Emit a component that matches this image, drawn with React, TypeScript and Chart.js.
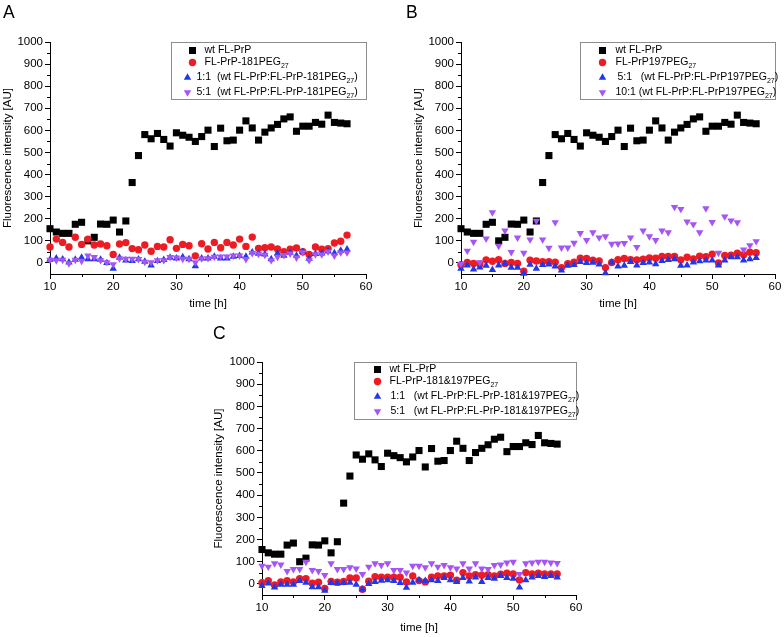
import React, { useEffect, useRef } from "react";
import { Chart, registerables } from "chart.js";

Chart.register(...registerables);

// ---------- DATA ----------
const hours = [10, 11, 12, 13, 14, 15, 16, 17, 18, 19, 20, 21, 22, 23, 24, 25, 26, 27, 28, 29, 30, 31, 32, 33, 34, 35, 36, 37, 38, 39, 40, 41, 42, 43, 44, 45, 46, 47, 48, 49, 50, 51, 52, 53, 54, 55, 56, 57];

const wtFLPrP = [155, 140, 134, 134, 175, 184, 100, 116, 176, 175, 194, 140, 190, 364, 486, 581, 562, 586, 559, 529, 589, 578, 569, 550, 572, 601, 527, 610, 553, 556, 601, 643, 611, 556, 592, 611, 627, 652, 661, 596, 619, 619, 636, 628, 669, 636, 633, 630];

const aPeg181 = [72, 108, 93, 72, 116, 84, 108, 81, 86, 78, 38, 86, 92, 65, 60, 81, 53, 75, 72, 105, 66, 84, 78, 32, 87, 63, 93, 69, 93, 81, 108, 75, 117, 66, 69, 72, 63, 51, 62, 68, 51, 38, 72, 62, 65, 90, 98, 126];
const aMix11 = [15, 21, 17, 3, 15, 24, 17, 18, 15, 0, -26, 24, 12, 9, 17, 6, -11, 9, 14, 24, 21, 27, 18, -14, 21, 21, 29, 21, 21, 29, 32, 29, 48, 42, 39, 18, 44, 33, 47, 33, 50, 20, 41, 44, 53, 45, 56, 62];
const aMix51 = [14, 11, 14, -2, 14, 9, 33, 26, 12, 3, -6, 20, 18, 18, 17, 5, 3, 12, 12, 26, 24, 18, 18, 2, 20, 21, 27, 29, 29, 33, 33, 17, 44, 41, 36, 12, 27, 35, 42, 24, 48, 12, 39, 38, 51, 33, 47, 47];

const bPeg197 = [-8, 2, -2, -5, 14, 8, 15, -2, 2, -2, -37, 12, 9, 6, 6, 3, -21, -3, 3, 21, 20, 12, 9, -21, 2, 15, 20, 15, 14, 17, 23, 21, 29, 29, 29, 14, 26, 18, 31, 28, 40, 0, 34, 35, 44, 37, 49, 46];
const bMix51 = [-25, -11, -29, -20, -12, -31, -11, -3, -21, -21, -48, -8, -25, -9, -6, -15, -34, -12, -9, 5, 0, 2, -6, -46, 3, -15, -12, 5, -11, 0, 3, -5, 9, 14, 18, -12, -11, 3, 8, 12, 12, -11, 12, 26, 26, 12, 18, 23];
const bMix101 = [-5, 55, 95, 3, 110, 229, 77, 146, 49, 114, 45, 106, 190, 106, 68, 184, 69, 69, 91, 135, 103, 138, 115, 120, 86, 87, 90, 115, 72, 146, 120, 103, 146, 138, 253, 244, 187, 175, 138, 247, 185, 45, 210, 192, 183, 60, 80, 98];

const cPeg181197 = [5, 14, -5, 9, 14, 9, 24, 24, 3, 8, -21, 11, 8, 11, 27, 27, -24, 12, 32, 30, 30, 30, 30, 9, 36, 15, 9, 30, 36, 36, 39, 17, 51, 36, 42, 39, 42, 36, 44, 48, 45, 18, 51, 45, 48, 45, 45, 45];
const cMix11 = [-9, 2, -15, -3, -3, -3, 14, 6, -14, -14, -30, 5, 3, 5, 6, -3, -24, 0, 9, 15, 17, 14, 5, -17, 6, 17, 14, 17, 14, 27, 17, 9, 27, 12, 30, 9, 27, 24, 36, 27, 24, -15, 17, 30, 36, 32, 36, 30];
const cMix51 = [81, 77, 92, 87, 57, 66, 66, 99, 62, 57, 39, 92, 66, 66, 74, 69, 44, 77, 92, 84, 92, 62, 62, 51, 81, 81, 74, 92, 77, 84, 74, 69, 92, 69, 92, 69, 66, 84, 87, 96, 99, 44, 92, 96, 99, 99, 96, 93];

const labelsA = ["wt FL-PrP", "FL-PrP-181PEG_27", "1:1  (wt FL-PrP:FL-PrP-181PEG_27)", "5:1  (wt FL-PrP:FL-PrP-181PEG_27)"];
const labelsB = ["wt FL-PrP", "FL-PrP197PEG_27", "5:1   (wt FL-PrP:FL-PrP197PEG_27)", "10:1 (wt FL-PrP:FL-PrP197PEG_27)"];
const labelsC = ["wt FL-PrP", "FL-PrP-181&197PEG_27", "1:1   (wt FL-PrP:FL-PrP-181&197PEG_27)", "5:1   (wt FL-PrP:FL-PrP-181&197PEG_27)"];

const xMajorTicks = [10, 20, 30, 40, 50, 60];
const xMinorTicks = [15, 25, 35, 45, 55];
const yMajorTicks = [0, 100, 200, 300, 400, 500, 600, 700, 800, 900, 1000];
const yMinorTicks = [50, 150, 250, 350, 450, 550, 650, 750, 850, 950];
const xTitle = "time [h]";
const yTitle = "Fluorescence intensity [AU]";

// ---------- STYLE ----------
const FONT = "'Liberation Sans', Arial, Helvetica, sans-serif";
const COLORS = ["#000000", "rgb(237,28,36)", "rgb(35,55,230)", "rgb(165,85,245)"];
const STYLES = ["rect", "circle", "up", "down"];

type LegendCfg = { width: number; height: number; rows: number[]; markerX: number[]; textX: number[] };

type PanelCfg = {
  letter: string;
  letterPos: [number, number];
  left: number;
  top: number;
  w: number;
  h: number;
  pad: { left: number; top: number; right: number };
  yW: number;
  xH: number;
  xTitlePad: number;
  series: number[][];
  labels: string[];
  legend: LegendCfg;
};

const panels: PanelCfg[] = [
  {
    letter: "A", letterPos: [3, 17.5], left: 0, top: 0, w: 392, h: 315,
    pad: { left: 0, top: 42, right: 26 }, yW: 50, xH: 41, xTitlePad: 4,
    series: [wtFLPrP, aPeg181, aMix11, aMix51], labels: labelsA,
    legend: { width: 195, height: 57, rows: [8, 20, 35, 50], markerX: [21, 21, 16, 16], textX: [33, 33, 25, 25] },
  },
  {
    letter: "B", letterPos: [14, 17.5], left: 392, top: 0, w: 392, h: 315,
    pad: { left: 19, top: 42, right: 9 }, yW: 50, xH: 41, xTitlePad: 4,
    series: [wtFLPrP, bPeg197, bMix51, bMix101], labels: labelsB,
    legend: { width: 195, height: 57, rows: [8, 20, 35, 50], markerX: [22, 22, 22, 22], textX: [35, 35, 37, 35] },
  },
  {
    letter: "C", letterPos: [2, 24], left: 211, top: 315, w: 375, h: 322,
    pad: { left: 0, top: 47, right: 10 }, yW: 51, xH: 42, xTitlePad: 2,
    series: [wtFLPrP, cPeg181197, cMix11, cMix51], labels: labelsC,
    legend: { width: 222, height: 57, rows: [7, 19, 34, 49], markerX: [23, 23, 23, 23], textX: [35, 35, 36, 36] },
  },
];

function drawMarker(ctx: CanvasRenderingContext2D, style: string, x: number, y: number, color: string) {
  ctx.fillStyle = color;
  ctx.beginPath();
  if (style === "rect") {
    ctx.rect(x - 3.5, y - 3.5, 7, 7);
  } else if (style === "circle") {
    ctx.arc(x, y, 3.7, 0, Math.PI * 2);
  } else {
    const r = 4.3;
    const s = style === "up" ? 1 : -1;
    ctx.moveTo(x, y - s * r);
    ctx.lineTo(x + r * 0.866, y + s * r * 0.5);
    ctx.lineTo(x - r * 0.866, y + s * r * 0.5);
    ctx.closePath();
  }
  ctx.fill();
}

function drawRichText(ctx: CanvasRenderingContext2D, text: string, x: number, y: number) {
  const m = text.match(/^(.*?)_(\d+)(.*)$/);
  ctx.fillStyle = "#000";
  ctx.textBaseline = "middle";
  ctx.textAlign = "left";
  ctx.font = `10.5px ${FONT}`;
  if (!m) {
    ctx.fillText(text, x, y);
    return;
  }
  ctx.fillText(m[1], x, y);
  let cx = x + ctx.measureText(m[1]).width;
  ctx.font = `7px ${FONT}`;
  ctx.fillText(m[2], cx, y + 4);
  cx += ctx.measureText(m[2]).width;
  ctx.font = `10.5px ${FONT}`;
  if (m[3]) ctx.fillText(m[3], cx, y);
}

const decoPlugin = {
  id: "deco",
  afterDraw(chart: any, _args: any, opts: any) {
    const cfg: PanelCfg = opts.cfg;
    if (!cfg) return;
    const { ctx, chartArea: ca, scales } = chart;
    ctx.save();
    // minor ticks
    ctx.strokeStyle = "#000";
    ctx.lineWidth = 1;
    ctx.beginPath();
    for (const v of xMinorTicks) {
      const px = Math.round(scales.x.getPixelForValue(v)) + 0.5;
      ctx.moveTo(px, ca.bottom);
      ctx.lineTo(px, ca.bottom + 3);
    }
    for (const v of yMinorTicks) {
      const py = Math.round(scales.y.getPixelForValue(v)) + 0.5;
      ctx.moveTo(ca.left, py);
      ctx.lineTo(ca.left - 3, py);
    }
    ctx.stroke();

    // legend box
    const lg = cfg.legend;
    const bx = Math.round(ca.right - lg.width) + 0.5;
    const by = Math.round(ca.top) + 0.5;
    ctx.fillStyle = "#fff";
    ctx.fillRect(bx, by, lg.width, lg.height);
    ctx.strokeStyle = "#8c8c8c";
    ctx.lineWidth = 1;
    ctx.strokeRect(bx, by, lg.width, lg.height);
    cfg.labels.forEach((lab, i) => {
      const y = by + lg.rows[i];
      drawMarker(ctx, STYLES[i], bx + lg.markerX[i], y, COLORS[i]);
      drawRichText(ctx, lab, bx + lg.textX[i], y);
    });

    // panel letter
    ctx.fillStyle = "#000";
    ctx.font = `17.5px ${FONT}`;
    ctx.textBaseline = "alphabetic";
    ctx.textAlign = "left";
    ctx.fillText(cfg.letter, cfg.letterPos[0], cfg.letterPos[1]);
    ctx.restore();
  },
};

function buildConfig(cfg: PanelCfg): any {
  const datasets = cfg.series.map((vals, i) => ({
    label: cfg.labels[i],
    data: hours.map((h, j) => ({ x: h, y: vals[j] })),
    pointStyle: i === 0 ? "rect" : i === 1 ? "circle" : "triangle",
    rotation: i === 3 ? 180 : 0,
    pointRadius: i === 0 ? 5 : i === 1 ? 3.7 : 4.3,
    pointBackgroundColor: COLORS[i],
    pointBorderColor: COLORS[i],
    pointBorderWidth: 0,
    showLine: false,
    clip: false,
    order: 3 - i,
  }));
  const tickFont = { family: FONT, size: 11.5 };
  return {
    type: "scatter",
    data: { datasets },
    plugins: [decoPlugin],
    options: {
      animation: false,
      responsive: false,
      maintainAspectRatio: false,
      events: [],
      layout: { padding: { left: cfg.pad.left, top: cfg.pad.top, right: cfg.pad.right, bottom: 0 } },
      plugins: {
        legend: { display: false },
        tooltip: { enabled: false },
        title: { display: false },
        deco: { cfg },
      },
      scales: {
        x: {
          type: "linear",
          position: "bottom",
          min: 10,
          max: 60,
          afterBuildTicks: (s: any) => { s.ticks = xMajorTicks.map((v) => ({ value: v })); },
          ticks: { color: "#000", font: tickFont, padding: 1, maxRotation: 0, autoSkip: false, callback: (v: any) => String(v) },
          grid: { drawOnChartArea: false, drawTicks: true, tickLength: 5, color: "#000", lineWidth: 1 },
          border: { display: true, color: "#000", width: 1 },
          title: { display: true, text: xTitle, color: "#000", font: tickFont, padding: { top: 0, bottom: cfg.xTitlePad } },
          afterFit: (s: any) => { s.height = cfg.xH; },
        },
        y: {
          type: "linear",
          position: "left",
          min: -50,
          max: 1000,
          afterBuildTicks: (s: any) => { s.ticks = yMajorTicks.map((v) => ({ value: v })); },
          ticks: { color: "#000", font: tickFont, padding: 2, autoSkip: false, callback: (v: any) => String(v) },
          grid: { drawOnChartArea: false, drawTicks: true, tickLength: 5, color: "#000", lineWidth: 1 },
          border: { display: true, color: "#000", width: 1 },
          title: { display: true, text: yTitle, color: "#000", font: tickFont, padding: { top: 1, bottom: 0 } },
          afterFit: (s: any) => { s.width = cfg.yW; },
        },
      },
    },
  };
}

function Panel({ cfg }: { cfg: PanelCfg }) {
  const ref = useRef<HTMLCanvasElement>(null);
  useEffect(() => {
    if (!ref.current) return;
    const chart = new Chart(ref.current, buildConfig(cfg));
    return () => chart.destroy();
  }, [cfg]);
  return (
    <canvas
      ref={ref}
      width={cfg.w}
      height={cfg.h}
      style={{ position: "absolute", left: cfg.left, top: cfg.top, width: cfg.w, height: cfg.h }}
    />
  );
}

export default function App() {
  return (
    <div style={{ position: "fixed", left: 0, top: 0, width: 784, height: 637, background: "#fff", overflow: "hidden" }}>
      {panels.map((p) => (
        <Panel key={p.letter} cfg={p} />
      ))}
    </div>
  );
}
